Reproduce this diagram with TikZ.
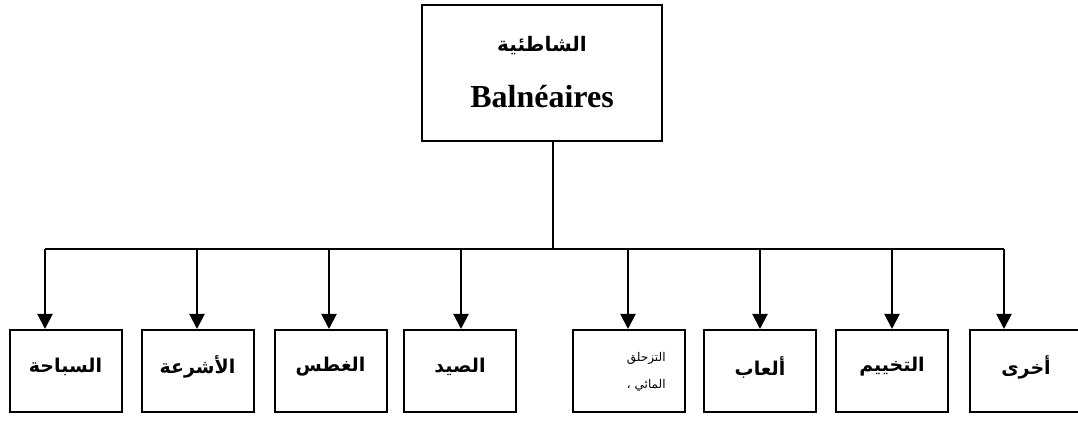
\documentclass[tikz,border=0pt]{standalone}
\usepackage{fontspec}
\setmainfont{Liberation Serif}
\newfontfamily\arabicfont[Script=Arabic]{DejaVu Sans}
\TeXXeTstate=1
\newcommand{\artxt}[1]{{\arabicfont\beginR #1\endR}}
\usetikzlibrary{arrows.meta}

\begin{document}
\begin{tikzpicture}[x=0.5pt,y=-0.5pt]
	\tikzset{box/.style={draw,line width=1pt,minimum width=56pt,minimum height=41pt,inner sep=0pt},
		link/.style={line width=1pt},
		drop/.style={line width=1pt,-{Triangle[length=7.5pt,width=7.5pt]}}}
	\useasboundingbox (0,0) rectangle (1078,421);
	% top box
	\node[box,minimum width=120pt,minimum height=68pt] (top) at (542,73) {};
	\node (toparab) at (542,46) {\fontsize{10}{12}\selectfont\artxt{\bfseries الشاطئية}};
	\node (toplat) at (542,97) {\fontsize{16}{18}\selectfont\bfseries Balnéaires};
	\coordinate (hub) at (553,249);
	\draw[link] (hub |- top.south) -- (hub);
	% leaves
	\foreach \i/\x/\d/\txt in {1/65.5/45/السباحة,2/197.5/197/الأشرعة,3/330.5/329/الغطس,4/460/461/الصيد,
		5/629/628/{},6/760/760/ألعاب,7/892/892/التخييم,8/1026/1004/أخرى} {
		\node[box] (b\i) at (\x,371) {};
		\node (t\i) at (\x,367) {\fontsize{9.5}{11}\selectfont\artxt{\bfseries\txt}};
		\coordinate (j\i) at (\d,249);
		\draw[drop] (j\i) -- (j\i |- b\i.north);
	}
	\node[anchor=east,inner sep=0pt] (b5top) at (666,358) {\fontsize{6}{7}\selectfont\artxt{التزحلق}};
	\node[anchor=east,inner sep=0pt] (b5bot) at (666,385) {\fontsize{6}{7}\selectfont\artxt{المائي ،}};
	\draw[link] (j1) -- (j8);
\end{tikzpicture}
\end{document}
